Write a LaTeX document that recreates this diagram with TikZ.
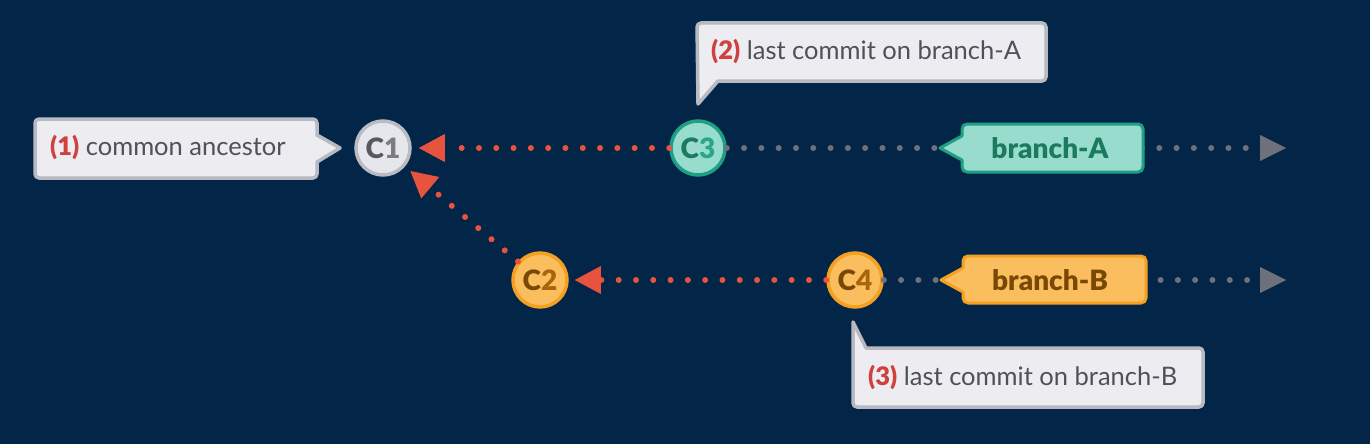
\documentclass[tikz,border=0pt]{standalone}
\usepackage{fontspec}
\setmainfont{Lato}[BoldFont={Lato Black}]
\usetikzlibrary{arrows.meta}
\definecolor{bg}{RGB}{3,38,72}
\definecolor{redc}{HTML}{E8533F}
\definecolor{greydot}{HTML}{6E717B}
\definecolor{calfill}{HTML}{ECECF1}
\definecolor{caldraw}{HTML}{B7BAC2}
\definecolor{caltext}{HTML}{505058}
\definecolor{labred}{HTML}{D0403F}
\definecolor{cgfill}{HTML}{E6E7EC}
\definecolor{cgdraw}{HTML}{B9BCC4}
\definecolor{cgdark}{HTML}{58585E}
\definecolor{cglight}{HTML}{7C7C82}
\definecolor{gnfill}{HTML}{97DCCD}
\definecolor{gndraw}{HTML}{1FA084}
\definecolor{gndark}{HTML}{1C7A5F}
\definecolor{gnlight}{HTML}{2AA585}
\definecolor{orfill}{HTML}{FBBE5E}
\definecolor{ordraw}{HTML}{F4A020}
\definecolor{ordark}{HTML}{7A4806}
\definecolor{orlight}{HTML}{A8660C}
\begin{document}
\begin{tikzpicture}[x=1pt,y=-1pt,
  commit/.style={circle,minimum size=54pt,inner sep=0pt,line width=3.5pt,font=\bfseries\fontsize{28}{28}\selectfont},
  reddot/.style={draw=redc,line width=6pt,line cap=round,dash pattern=on 0pt off 17.3pt,
     -{Triangle[length=26pt,width=28pt,line width=0pt]}},
  greyline/.style={draw=greydot,line width=6pt,line cap=round,dash pattern=on 0pt off 17.3pt,
     -{Triangle[length=26pt,width=26pt,line width=0pt]}},
  callout/.style={fill=calfill,draw=caldraw,line width=3.5pt,line join=round},
  caltxt/.style={anchor=west,inner sep=0pt,text=caltext,font=\fontsize{25.5}{25.5}\selectfont},
  gbox/.style={fill=gnfill,draw=gndraw,line width=3pt,line join=round},
  obox/.style={fill=orfill,draw=ordraw,line width=3pt,line join=round},
  btxt/.style={inner sep=0pt,font=\bfseries\fontsize{28}{28}\selectfont}
]
\useasboundingbox (0,0) rectangle (1370,444);
\fill[bg] (0,0) rectangle (1370,444);

% commits
\node[commit,fill=cgfill,draw=cgdraw] (c1) at (383,148) {\textcolor{cgdark}{C}\textcolor{cglight}{1}};
\node[commit,fill=gnfill,draw=gndraw] (c3) at (698,148) {\textcolor{gndark}{C}\textcolor{gnlight}{3}};
\node[commit,fill=orfill,draw=ordraw] (c2) at (540,280) {\textcolor{ordark}{C}\textcolor{orlight}{2}};
\node[commit,fill=orfill,draw=ordraw] (c4) at (855,280) {\textcolor{ordark}{C}\textcolor{orlight}{4}};

\coordinate (endA) at (1286,148);
\coordinate (endB) at (1286,280);

% grey continuation lines (behind branch labels)
\draw[greyline] (c3) -- (endA);
\draw[greyline] (c4) -- (endB);

% red parent connectors
\draw[reddot,shorten >=7pt] (c3) -- (c1);
\draw[reddot,shorten >=7pt] (c2) -- (c1);
\draw[reddot,shorten >=6pt] (c4) -- (c2);

% branch labels
\draw[gbox] (940,148) [sharp corners]-- (962,136) [rounded corners=5pt]-- (962,124) -- (1143,124) -- (1143,172) -- (962,172) [sharp corners]-- (962,160) -- cycle;
\node[btxt,text=gndark] (ba) at (1050,148) {branch-A};
\draw[obox] (941,280) [sharp corners]-- (963,268) [rounded corners=5pt]-- (963,256) -- (1146,256) -- (1146,303) -- (963,303) [sharp corners]-- (963,292) -- cycle;
\node[btxt,text=ordark] (bb) at (1050,280) {branch-B};

% callouts
\draw[callout] (317,135) -- (340,148) -- (317,162) [rounded corners=4pt]-- (317,178) -- (35,178) -- (35,119) -- (317,119) [sharp corners]-- cycle;
\node[caltxt] (t1) at (50,148) {\textcolor{labred}{\bfseries(1)} common ancestor};

\draw[callout] (698,104) [rounded corners=4pt]-- (697,23) -- (1046,23) -- (1046,81) [sharp corners]-- (718,81) -- cycle;
\node[caltxt] (t2) at (711,52) {\textcolor{labred}{\bfseries(2)} last commit on branch-A};

\draw[callout] (853,322) -- (866,348) [rounded corners=4pt]-- (1203,348) -- (1203,407) -- (853,407) [sharp corners]-- cycle;
\node[caltxt] (t3) at (868,378) {\textcolor{labred}{\bfseries(3)} last commit on branch-B};
\end{tikzpicture}
\end{document}
